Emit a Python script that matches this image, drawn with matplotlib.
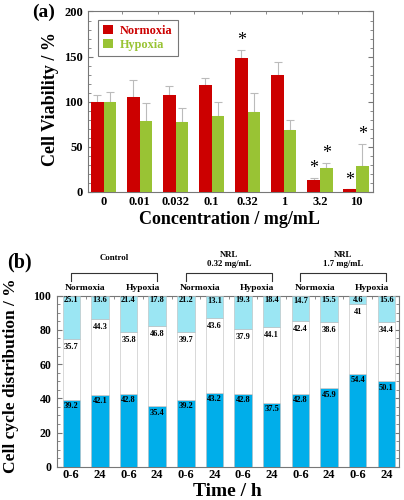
import matplotlib
matplotlib.use("Agg")
import matplotlib.pyplot as plt
from matplotlib.ticker import MultipleLocator
import numpy as np

plt.rcParams['font.family'] = ['Liberation Serif', 'DejaVu Serif']
plt.rcParams['font.weight'] = 'bold'

# panel (a) data
conc = ["0", "0.01", "0.032", "0.1", "0.32", "1", "3.2", "10"]
normoxia = [100, 105.5, 107, 118, 148, 129, 12.5, 2.5]
normoxia_err = [7, 19, 10, 8, 9, 15, 2.5, 0]
hypoxia = [100, 78, 77, 84, 88, 68, 26, 28.5]
hypoxia_err = [11, 20, 16, 16, 21, 12, 5.5, 24.5]
# asterisks: (category index, series)
stars = [(4, 'n'), (6, 'n'), (6, 'h'), (7, 'n'), (7, 'h')]

# panel (b) data
times = ["0-6", "24"] * 6
g1 = [39.2, 42.1, 42.8, 35.4, 39.2, 43.2, 42.8, 37.5, 42.8, 45.9, 54.4, 50.1]
s_phase = [35.7, 44.3, 35.8, 46.8, 39.7, 43.6, 37.9, 44.1, 42.4, 38.6, 41, 34.4]
g2m = [25.1, 13.6, 21.4, 17.8, 21.2, 13.1, 19.3, 18.4, 14.7, 15.5, 4.6, 15.6]
conditions = ["Normoxia", "Hypoxia"] * 3
treatments = ["Control", "NRL\n0.32 mg/mL", "NRL\n1.7 mg/mL"]

RED = '#cc0000'
GREEN = '#99c334'
BLUE = '#00aeea'
CYAN = '#9be6f3'
FRAME = '#777777'

fig = plt.figure(figsize=(4.04, 5.0), dpi=100)

# ---------------- (a)
ax = fig.add_axes([0.218, 0.6166, 0.705, 0.3604])
x = np.arange(len(conc))
w = 0.35
ax.bar(x - w / 2, normoxia, w, color=RED, zorder=3)
ax.bar(x + w / 2, hypoxia, w, color=GREEN, zorder=3)
ax.errorbar(x - w / 2, normoxia, yerr=[np.zeros(len(x)), normoxia_err], fmt='none',
            ecolor='#bbbbbb', elinewidth=0.8, capsize=3, capthick=0.8, zorder=2)
ax.errorbar(x + w / 2, hypoxia, yerr=[np.zeros(len(x)), hypoxia_err], fmt='none',
            ecolor='#bbbbbb', elinewidth=0.8, capsize=3, capthick=0.8, zorder=2)
for i, s in stars:
    if s == 'n':
        top = normoxia[i] + normoxia_err[i]
        xs = x[i] - w / 2
    else:
        top = hypoxia[i] + hypoxia_err[i]
        xs = x[i] + w / 2
    ax.text(xs, top + 1, '*', ha='center', va='bottom', fontsize=13, fontweight='normal')

ax.set_xlim(-0.43, 7.47)
ax.set_ylim(0, 200)
ax.set_xticks(x)
ax.set_xticklabels(conc, fontsize=9, fontweight='bold')
ax.set_xticks(x[:-1] + 0.5, minor=True)
ax.yaxis.set_major_locator(MultipleLocator(50))
ax.yaxis.set_minor_locator(MultipleLocator(10))
ax.tick_params(axis='x', which='major', length=0, pad=3)
ax.tick_params(axis='x', which='minor', direction='in', top=True, bottom=False, length=2.5, color=FRAME)
ax.tick_params(axis='y', which='both', direction='in', left=True, right=True, color=FRAME, labelsize=9, pad=3.5)
ax.tick_params(axis='y', which='major', length=3.5)
ax.tick_params(axis='y', which='minor', length=2)
for lab in ax.get_yticklabels():
    lab.set_fontweight('bold')
for sp in ax.spines.values():
    sp.set_color(FRAME)
    sp.set_linewidth(0.8)

leg = ax.legend(['Normoxia', 'Hypoxia'], loc='upper left', bbox_to_anchor=(0.035, 0.952),
                borderaxespad=0, frameon=True, fancybox=False, edgecolor='#555555',
                handlelength=0.8, handleheight=0.8, handletextpad=0.6,
                borderpad=0.4, labelspacing=0.15,
                prop={'weight': 'bold', 'size': 8.8})
leg.get_frame().set_linewidth(0.8)
for t, c in zip(leg.get_texts(), [RED, GREEN]):
    t.set_color(c)

fig.text(0.109, 0.976, '(a)', fontsize=14, fontweight='bold', ha='center', va='center')
fig.text(0.124, 0.802, 'Cell Viability / %', fontsize=13, fontweight='bold',
         rotation=90, ha='center', va='center')
fig.text(0.569, 0.56, 'Concentration / mg/mL', fontsize=13, fontweight='bold',
         ha='center', va='center')

# ---------------- (b)
bx = fig.add_axes([0.141, 0.0666, 0.847, 0.342])
xb = np.arange(len(times))
wb = 0.61
g1 = np.array(g1)
s_phase = np.array(s_phase)
g2m = np.array(g2m)
bx.bar(xb, g1, wb, color=BLUE, edgecolor='#bbbbbb', linewidth=0.4, zorder=3)
bx.bar(xb, s_phase, wb, bottom=g1, color='white', edgecolor='#bbbbbb', linewidth=0.4, zorder=3)
bx.bar(xb, g2m, wb, bottom=g1 + s_phase, color=CYAN, edgecolor='#bbbbbb', linewidth=0.4, zorder=3)

for i in range(len(xb)):
    tops = [g1[i], g1[i] + s_phase[i], g1[i] + s_phase[i] + g2m[i]]
    vals = [g1[i], s_phase[i], g2m[i]]
    offs = [-3.8, -4.7, -2.8]
    for tp, v, o in zip(tops, vals, offs):
        bx.text(xb[i], tp + o, f"{v:g}", ha='center', va='center', fontsize=6,
                fontweight='bold', zorder=5)

bx.set_xlim(-0.5, 11.45)
bx.set_ylim(0, 100)
bx.set_xticks(xb)
bx.set_xticklabels(times, fontsize=9, fontweight='bold')
bx.set_xticks(xb[:-1] + 0.5, minor=True)
bx.yaxis.set_major_locator(MultipleLocator(20))
bx.yaxis.set_minor_locator(MultipleLocator(5))
bx.tick_params(axis='x', which='major', length=0, pad=2)
bx.tick_params(axis='x', which='minor', direction='in', top=True, bottom=False, length=2.5, color=FRAME)
bx.tick_params(axis='y', which='both', direction='in', left=True, right=True, color=FRAME, labelsize=8.5, pad=4)
bx.tick_params(axis='y', which='major', length=3.5)
bx.tick_params(axis='y', which='minor', length=2)
for lab in bx.get_yticklabels():
    lab.set_fontweight('bold')
for sp in bx.spines.values():
    sp.set_color(FRAME)
    sp.set_linewidth(0.8)

trans = bx.get_xaxis_transform()
for k, cond in enumerate(conditions):
    bx.text(2 * k + 0.5, 1.043, cond, transform=trans, ha='center', va='center',
            fontsize=6.8, fontweight='bold', clip_on=False)
for k, tr in enumerate(treatments):
    x0, x1 = 4 * k, 4 * k + 3
    bx.plot([x0, x0, x1, x1], [1.088, 1.1345, 1.1345, 1.088], transform=trans,
            color='#333333', lw=0.8, clip_on=False)
    bx.text(4 * k + 1.5, 1.212 if k else 1.22, tr, transform=trans, ha='center',
            va='center', fontsize=6.3, fontweight='bold', linespacing=1.3, clip_on=False)

fig.text(0.047, 0.476, '(b)', fontsize=14.5, fontweight='bold', ha='center', va='center')
fig.text(0.026, 0.248, 'Cell cycle distribution / %', fontsize=12.5, fontweight='bold',
         rotation=90, ha='center', va='center')
fig.text(0.562, 0.018, 'Time / h', fontsize=14, fontweight='bold', ha='center', va='center')

fig.savefig('out.png', dpi=100)
